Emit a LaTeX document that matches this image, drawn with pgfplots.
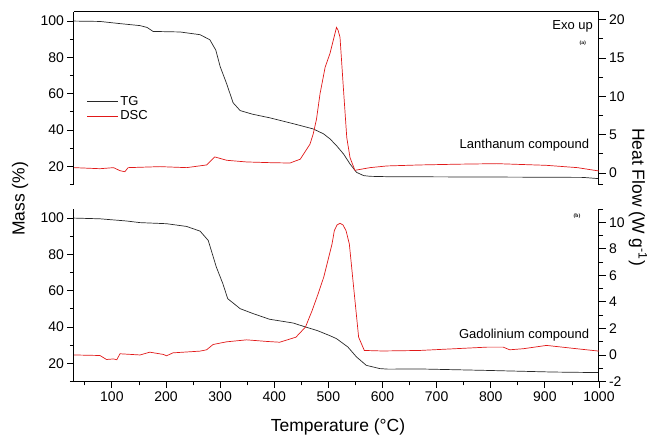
\documentclass[border=0pt]{standalone}
\usepackage{fontspec}
\setmainfont{Liberation Sans}
\newfontfamily\tagfont{Liberation Serif}
\usepackage{pgfplots}
\pgfplotsset{compat=1.18}

\definecolor{tgcol}{RGB}{40,40,40}
\definecolor{dsccol}{RGB}{225,25,25}

\pgfplotsset{
  panel/.style={
    scale only axis, width=525pt, height=172.5pt,
    xmin=30, xmax=1000,
    tick align=outside,
    major tick length=6.5pt, minor tick length=4pt,
    axis line style={-, line width=1pt},
    every tick/.style={line width=0.8pt, black},
    tick label style={font=\fontsize{14}{16}\selectfont},
    /pgf/number format/assume math mode=true,
    /pgf/number format/1000 sep={},
  },
  tg/.style={tgcol, line width=0.7pt},
  dsc/.style={dsccol, line width=0.7pt},
}

\begin{document}
\begin{tikzpicture}
\useasboundingbox (-74pt,12pt) rectangle (579pt,-424pt);

% ---- (a) Lanthanum compound ----
\begin{axis}[panel, at={(0pt,0pt)}, anchor=north west,
  axis x line*=top, axis y line*=left, xtick=\empty,
  ymin=10, ymax=105, ytick={20,40,60,80,100}, minor ytick={10,30,50,70,90},
  ytick pos=left,
  legend cell align=left,
  legend style={draw=none, fill=none, at={(axis description cs:0.018,0.44)},
    anchor=west, font=\fontsize{13}{15}\selectfont},
  legend image code/.code={\draw[#1] (0pt,0pt) -- (31pt,0pt);},
]
\addplot[tg] coordinates {
  (30,100) (78,99.8) (115,98.6) (152,97.5) (165,96.5) (176,94.3) (226,94)
  (263,92.5) (281,89.7) (292,84) (300,75) (312,65.5) (324,55) (337,50.7)
  (360,48.7) (392,46.7) (435,43.5) (472,40.6) (491,37.9) (503,35.1)
  (515,31.4) (528,26.8) (540,21.3) (552,16.7) (565,14.9) (577,14.5)
  (608,14.3) (700,14.2) (800,14.1) (900,14.0) (971,13.9) (1000,13.2)
};
\addlegendentry{TG}
\addlegendimage{dsc}
\addlegendentry{DSC}
\end{axis}

\begin{axis}[panel, at={(0pt,0pt)}, anchor=north west,
  axis x line=none, axis y line*=right,
  ymin=-1.5, ymax=21, ytick={0,5,10,15,20},
  minor ytick={-1.5,2.5,7.5,12.5,17.5}, ytick pos=right,
]
\addplot[dsc] coordinates {
  (30,0.7) (78,0.56) (103,0.7) (115,0.3) (124,0.17) (130,0.7) (189,0.83)
  (238,0.7) (275,1.05) (283,1.6) (290,2.1) (300,1.9) (312,1.66) (349,1.44)
  (392,1.35) (429,1.3) (448,1.8) (454,2.45) (466,3.76) (472,5.1) (478,7)
  (484.5,10.3) (494,13.8) (503,15.6) (509,17.3) (515,19.0) (518,18.6)
  (521.5,17.7) (527.6,11.2) (534,4.6) (540,2.0) (549,0.35) (577,0.7)
  (608,0.92) (669,1.05) (740,1.15) (811,1.22) (903,1.0) (960,0.7) (1000,0.26)
};
\end{axis}

% ---- (b) Gadolinium compound ----
\begin{axis}[panel, at={(0pt,-197pt)}, anchor=north west,
  axis x line*=bottom, axis y line*=left,
  xtick={100,200,...,1000}, minor xtick={50,150,...,950}, xtick pos=bottom,
  ymin=10, ymax=105, ytick={20,40,60,80,100}, minor ytick={10,30,50,70,90},
  ytick pos=left,
]
\addplot[tg] coordinates {
  (30,100) (78,99.6) (127,98.4) (152,97.5) (201,96.9) (238,95.4) (263,92.8)
  (278,87.7) (293,73) (305,63.9) (314,55.6) (337,50.1) (360,47.5) (391,44.3)
  (435,42.2) (458,40.0) (480,38.0) (503,35.2) (515,33.6) (536,29.0)
  (552,23.5) (570,18.9) (595,17.1) (610,16.8) (669,16.9) (793,16.1)
  (916,15.2) (1000,14.9)
};
\end{axis}

\begin{axis}[panel, at={(0pt,-197pt)}, anchor=north west,
  axis x line=none, axis y line*=right,
  ymin=-2, ymax=11, ytick={-2,0,...,10}, minor ytick={-1,1,...,11},
  ytick pos=right,
]
\addplot[dsc] coordinates {
  (30,0) (78,-0.04) (90,-0.34) (103,-0.3) (109,-0.36) (115,0.09) (152,0)
  (170,0.21) (195,0.04) (201,-0.06) (213,0.16) (263,0.29) (275,0.39)
  (287,0.79) (312,0.99) (349,1.14) (386,1.02) (410,0.96) (440,1.34)
  (457.6,2.1) (470,3.35) (481,4.6) (491.4,5.86) (506.8,8.37) (511,9.37)
  (516,9.8) (521.5,9.92) (527,9.8) (532.6,9.37) (538.7,8.37) (547.9,4.6)
  (555.9,1.34) (566.4,0.34) (600,0.3) (669,0.34) (793,0.59) (823,0.59)
  (835,0.39) (860,0.47) (903,0.72) (952,0.5) (1000,0.29)
};
\end{axis}

\node[rotate=90, font=\fontsize{17.5}{20}\selectfont] at (-54pt,-187pt) {Mass (\%)};
\node[rotate=-90, font=\fontsize{17.5}{20}\selectfont] at (564pt,-185pt) {Heat Flow (W g\textsuperscript{-1})};
\node[font=\fontsize{17.5}{20}\selectfont] at (264pt,-415pt) {Temperature (°C)};

\node[anchor=east, inner sep=0pt, font=\fontsize{13}{15}\selectfont] at (519pt,-14pt) {Exo up};
\node[inner sep=0pt, font=\tagfont\bfseries\fontsize{5.5}{6}\selectfont] at (508.7pt,-31.3pt) {(a)};
\node[anchor=east, inner sep=0pt, font=\fontsize{13}{15}\selectfont] at (515.3pt,-133pt) {Lanthanum compound};
\node[inner sep=0pt, font=\tagfont\bfseries\fontsize{5.5}{6}\selectfont] at (503pt,-203.7pt) {(b)};
\node[anchor=east, inner sep=0pt, font=\fontsize{13}{15}\selectfont] at (515.3pt,-323pt) {Gadolinium compound};
\end{tikzpicture}
\end{document}
